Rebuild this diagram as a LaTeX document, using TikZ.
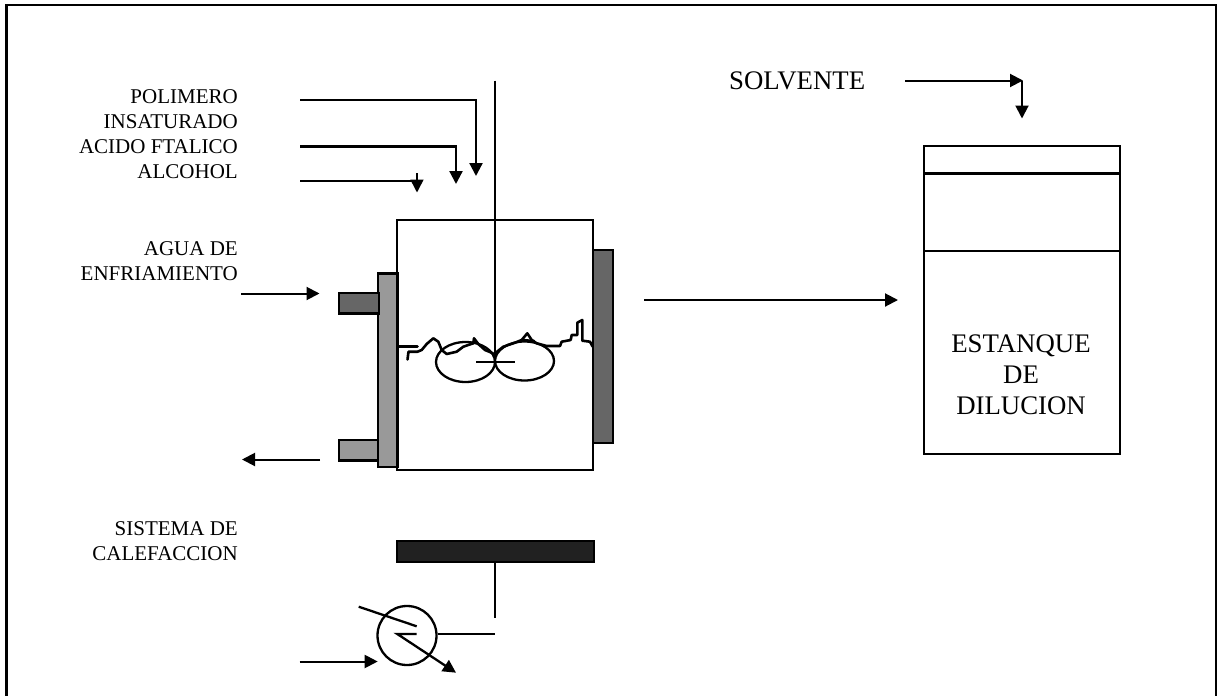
\documentclass[tikz,border=0pt]{standalone}
\usepackage{fontspec}
\setmainfont{Liberation Serif}
\usetikzlibrary{arrows.meta}
\tikzset{
  ln/.style={line width=2.3pt,draw=black,line join=miter},
  thin ln/.style={line width=2pt,draw=black},
  wavy ln/.style={line width=2.6pt,draw=black,line join=round,line cap=round},
  arr/.style={ln,-{Triangle[length=13pt,width=13pt]}},
  thinarr/.style={thin ln,-{Triangle[length=13pt,width=13pt]}},
  small/.style={font=\fontsize{21}{25}\selectfont,align=right,inner sep=0pt,anchor=north east},
  big/.style={font=\fontsize{26.8}{31}\selectfont,inner sep=0pt},
  box/.style={ln,fill=#1},
}
\begin{document}
\begin{tikzpicture}[x=1pt,y=-1pt]
\useasboundingbox (0,0) rectangle (1218,696);
% frame, open at the bottom
\draw[ln] (6.5,696) -- (6.5,5) -- (1216,5) -- (1216,696);
% labels
\node[small] (lpol) at (238,89) {POLIMERO\\INSATURADO};
\node[small] (lac) at (238,139) {ACIDO FTALICO};
\node[small] (lalc) at (238,164) {ALCOHOL};
\node[small] (lagua) at (238,241) {AGUA DE\\ENFRIAMIENTO};
\node[small] (lcal) at (238,521) {SISTEMA DE\\CALEFACCION};
\node[big,anchor=base west] (lsol) at (729,89) {SOLVENTE};
% reactor
\draw[box=white] (397,220) rectangle (593,470);
\draw[box={black!40}] (378,273.5) rectangle (397.5,467);
\draw[box={black!60}] (593,250) rectangle (613,443);
\draw[box={black!60}] (339,293) rectangle (379,313.5);
\draw[box={black!40}] (339,440) rectangle (378,460.5);
% impeller
\draw[ln] (465.5,362) ellipse [x radius=29.5,y radius=20];
\draw[ln] (524.5,361) ellipse [x radius=29.5,y radius=19.5];
\coordinate (sh0) at (495,80.5);
\coordinate (sh1) at (495,362);
\draw[ln] (sh0) -- (sh1);
\draw[ln] (476,362) -- (514.5,362);
% liquid surface
\draw[wavy ln] (399,346.7) -- (417.5,346.7);
\draw[wavy ln] (407.5,359.5) -- (408.5,351.7) -- (417.5,351.7) -- (421.7,350) -- (426.7,344)
  -- (433.3,338.3) -- (438.3,341.7) -- (441.7,350) -- (446.7,354) -- (456.7,351.7) -- (463.3,346.7)
  -- (473.3,343.3) -- (474,338.3) -- (478.3,344) -- (485,350) -- (493,353.3);
\draw[wavy ln] (495,353.3) -- (503.3,346.7) -- (515,342.7) -- (521.7,340) -- (527.3,333.3)
  -- (531.7,340) -- (536.7,343.3) -- (546.7,346) -- (560,346) -- (561.7,341.7) -- (570.7,340)
  -- (571.7,335) -- (577.3,335) -- (577.3,322.7) -- (582.3,320) -- (582.3,340.7) -- (590,341.7) -- (592.7,346.7);
\draw[wavy ln] (521.7,340) -- (534,341);
% feed lines
\coordinate (p0) at (300,100);
\coordinate (p1) at (476,176);
\draw[arr] (p0) -| (p1);
\coordinate (a0) at (300,146.5);
\coordinate (a1) at (456,184);
\draw[arr] (a0) -| (a1);
\coordinate (h0) at (300,181);
\coordinate (h1) at (417,181);
\coordinate (h2) at (417,173);
\coordinate (h3) at (417,192.5);
\draw[ln] (h0) -- (h1);
\draw[arr,line width=1.6pt] (h2) -- (h3);
% cooling water
\coordinate (w0) at (241,293.5);
\coordinate (w1) at (319.5,293.5);
\draw[thinarr] (w0) -- (w1);
\coordinate (w2) at (320,459.5);
\coordinate (w3) at (242,459.5);
\draw[thinarr] (w2) -- (w3);
% outlet to the dilution tank
\coordinate (o0) at (644,300);
\coordinate (o1) at (898,300);
\draw[thinarr] (o0) -- (o1);
% dilution tank
\draw[box=white] (924,146) rectangle (1120,454);
\draw[ln] (924,173.5) -- (1120,173.5);
\draw[ln] (924,251) -- (1120,251);
\node[big,align=center,anchor=north] (ltank) at (1021,335) {ESTANQUE\\DE\\DILUCION};
% solvent
\coordinate (s0) at (905,80.5);
\coordinate (s1) at (1023,80.5);
\coordinate (s2) at (1022,80.5);
\coordinate (s3) at (1022,118.5);
\draw[thinarr] (s0) -- (s1);
\draw[thinarr] (s2) -- (s3);
% heating system
\draw[box={black!87}] (397,541) rectangle (594,562);
\coordinate (st0) at (495.3,562);
\coordinate (st1) at (495.3,618);
\draw[ln] (st0) -- (st1);
\node[circle,draw=black,line width=2.3pt,minimum size=59pt,inner sep=0pt] (hx) at (407,635.5) {};
\coordinate (hx1) at (495,634.3);
\draw[ln] (hx.east |- hx1) -- (hx1);
\coordinate (c0) at (358.7,606.7);
\coordinate (c1) at (416.7,626.3);
\draw[ln] (c0) -- (c1);
\coordinate (d0) at (416.7,634);
\coordinate (d1) at (397.3,634);
\coordinate (d2) at (456,672.7);
\draw[arr] (d0) -- (d1) -- (d2);
\coordinate (i0) at (299.5,661.5);
\coordinate (i1) at (377.7,661.5);
\draw[thinarr] (i0) -- (i1);
\end{tikzpicture}
\end{document}
